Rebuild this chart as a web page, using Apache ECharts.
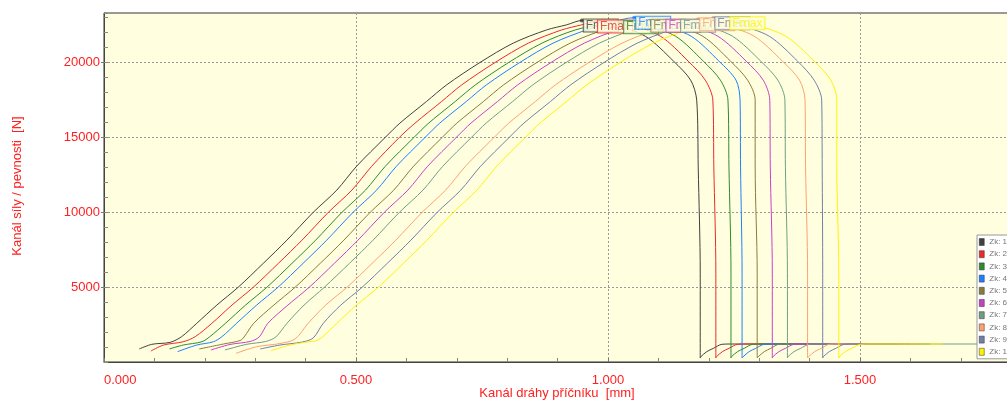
<!DOCTYPE html>
<html><head><meta charset="utf-8">
<script src="https://cdn.jsdelivr.net/npm/echarts@6/dist/echarts.min.js"></script>
<style>html,body{margin:0;padding:0;background:#fff}#c{width:1007px;height:401px}</style>
</head><body><div id="c"></div>
<script>
const names = ['Zk: 1','Zk: 2','Zk: 3','Zk: 4','Zk: 5','Zk: 6','Zk: 7','Zk: 8','Zk: 9','Zk: 10'];
const colors = ['#404040','#F02828','#2E8B2E','#1E80FF','#8B7B3A','#C840C8','#6E9E82','#FFA070','#7080A8','#FFF200'];
const xTitle = 'Kanál dráhy příčníku  [mm]';
const yTitle = 'Kanál síly / pevnosti  [N]';
const peakLabel = 'Fmax';

const zk1 = [[0.070,870],[0.095,1180],[0.131,1310],[0.154,1690],[0.184,2580],[0.224,3800],[0.266,4980],[0.316,6580],[0.363,8130],[0.415,9980],[0.462,11470],[0.501,13050],[0.558,14980],[0.587,15930],[0.640,17380],[0.680,18490],[0.746,19980],[0.812,21270],[0.878,22150],[0.918,22490],[0.948,22780],[1.008,22530],[1.074,21730],[1.130,20070],[1.164,18800],[1.176,17470],[1.179,13000],[1.183,5930],[1.183,270],[1.184,350],[1.196,690],[1.209,910],[1.226,1180],[1.242,1200],[1.520,1200]];
const zk2 = [[0.093,730],[0.118,1130],[0.157,1350],[0.181,1690],[0.214,2580],[0.254,3800],[0.296,4980],[0.346,6580],[0.393,8130],[0.445,9980],[0.492,11470],[0.531,13050],[0.586,14980],[0.617,15930],[0.670,17380],[0.710,18490],[0.776,19980],[0.842,21270],[0.908,22150],[0.948,22490],[0.976,22710],[1.038,22530],[1.104,21730],[1.159,20070],[1.193,18800],[1.208,17470],[1.210,13000],[1.214,5930],[1.214,270],[1.215,350],[1.227,690],[1.240,910],[1.257,1180],[1.273,1200],[1.540,1200]];
const zk3 = [[0.130,870],[0.157,1130],[0.194,1350],[0.210,1690],[0.241,2580],[0.281,3800],[0.323,4980],[0.373,6580],[0.420,8130],[0.472,9980],[0.519,11470],[0.558,13050],[0.615,14980],[0.644,15930],[0.697,17380],[0.737,18490],[0.803,19980],[0.869,21270],[0.935,22150],[0.984,22500],[1.028,22670],[1.068,22530],[1.134,21730],[1.189,20070],[1.223,18800],[1.238,17470],[1.240,13000],[1.244,5930],[1.244,270],[1.245,350],[1.257,690],[1.270,910],[1.287,1180],[1.304,1200],[1.560,1200]];
const zk4 = [[0.146,690],[0.184,1130],[0.217,1350],[0.234,1690],[0.263,2580],[0.303,3800],[0.345,4980],[0.395,6580],[0.442,8130],[0.494,9980],[0.541,11470],[0.580,13050],[0.637,14980],[0.666,15930],[0.719,17380],[0.759,18490],[0.825,19980],[0.891,21270],[0.957,22150],[1.004,22630],[1.052,22970],[1.099,22530],[1.165,21730],[1.220,20070],[1.254,18800],[1.262,17470],[1.263,13000],[1.266,5930],[1.266,270],[1.268,350],[1.280,690],[1.293,910],[1.310,1180],[1.326,1200],[1.579,1200]];
const zk5 = [[0.189,870],[0.237,1200],[0.270,1430],[0.278,1670],[0.297,2580],[0.337,3800],[0.379,4980],[0.429,6580],[0.476,8130],[0.528,9980],[0.575,11470],[0.614,13050],[0.671,14980],[0.700,15930],[0.753,17380],[0.793,18490],[0.859,19980],[0.925,21270],[0.991,22150],[1.040,22600],[1.082,22770],[1.122,22530],[1.188,21730],[1.243,20070],[1.277,18800],[1.292,17470],[1.292,13000],[1.296,5930],[1.296,270],[1.298,350],[1.310,690],[1.323,910],[1.339,1180],[1.356,1200],[1.579,1200]];
const zk6 = [[0.212,800],[0.250,1170],[0.290,1370],[0.308,1670],[0.325,2580],[0.365,3800],[0.407,4980],[0.457,6580],[0.504,8130],[0.556,9980],[0.603,11470],[0.642,13050],[0.699,14980],[0.728,15930],[0.781,17380],[0.821,18490],[0.887,19980],[0.953,21270],[1.019,22150],[1.069,22570],[1.112,22770],[1.153,22530],[1.218,21730],[1.274,20070],[1.308,18800],[1.321,17470],[1.322,13000],[1.326,5930],[1.326,270],[1.327,350],[1.339,690],[1.352,910],[1.369,1180],[1.385,1200],[1.599,1200]];
const zk7 = [[0.240,800],[0.283,1180],[0.321,1370],[0.341,1670],[0.363,2580],[0.397,3800],[0.437,4980],[0.487,6580],[0.534,8130],[0.586,9980],[0.633,11470],[0.672,13050],[0.729,14980],[0.758,15930],[0.811,17380],[0.851,18490],[0.917,19980],[0.983,21270],[1.049,22150],[1.099,22570],[1.141,22770],[1.182,22530],[1.247,21730],[1.303,20070],[1.337,18800],[1.351,17470],[1.352,13000],[1.356,5930],[1.356,270],[1.357,350],[1.369,690],[1.382,910],[1.399,1180],[1.415,1200],[2.000,1200]];
const zk8 = [[0.262,580],[0.303,1020],[0.349,1230],[0.379,1530],[0.405,2580],[0.440,3800],[0.482,4980],[0.532,6580],[0.579,8130],[0.631,9980],[0.678,11470],[0.717,13050],[0.774,14980],[0.803,15930],[0.856,17380],[0.896,18490],[0.962,19980],[1.028,21270],[1.094,22150],[1.143,22630],[1.179,22870],[1.225,22530],[1.290,21730],[1.346,20070],[1.380,18800],[1.391,17470],[1.392,13000],[1.396,5930],[1.396,270],[1.398,350],[1.410,690],[1.423,910],[1.439,1180],[1.456,1200],[1.619,1200]];
const zk9 = [[0.310,870],[0.349,1130],[0.393,1330],[0.415,1600],[0.435,2580],[0.470,3800],[0.512,4980],[0.562,6580],[0.609,8130],[0.661,9980],[0.708,11470],[0.747,13050],[0.804,14980],[0.833,15930],[0.886,17380],[0.926,18490],[0.992,19980],[1.058,21270],[1.124,22150],[1.173,22700],[1.209,22930],[1.255,22530],[1.320,21730],[1.376,20070],[1.409,18800],[1.424,17470],[1.425,13000],[1.426,5930],[1.426,270],[1.427,350],[1.439,690],[1.452,910],[1.469,1180],[1.486,1200],[1.639,1200]];
const zk10 = [[0.331,750],[0.369,1130],[0.402,1330],[0.425,1470],[0.448,2130],[0.462,2580],[0.501,3800],[0.544,4980],[0.594,6580],[0.641,8130],[0.693,9980],[0.740,11470],[0.779,13050],[0.836,14980],[0.865,15930],[0.918,17380],[0.958,18490],[1.024,19980],[1.090,21270],[1.156,22150],[1.206,22700],[1.239,22930],[1.288,22530],[1.353,21730],[1.409,20070],[1.442,18800],[1.454,17470],[1.454,13000],[1.458,5930],[1.458,270],[1.459,350],[1.471,690],[1.484,910],[1.501,1180],[1.517,1200],[1.665,1200]];

const curves = [zk1,zk2,zk3,zk4,zk5,zk6,zk7,zk8,zk9,zk10];

const FONT = 'Liberation Sans, Arial, sans-serif';
const RED = '#FF2020';

const lineSeries = curves.map((d,i)=>({
  type:'line', name:names[i], data:d, symbol:'none', showSymbol:false, smooth:0.3,
  lineStyle:{width:1,color:colors[i]}, itemStyle:{color:colors[i]},
  z:2, animation:false, silent:true
}));
const peakSeries = curves.map((d,i)=>{
  const pk = d.reduce((a,b)=>b[1]>a[1]?b:a);
  return {
    type:'scatter', name:'peak'+(i+1), data:[pk], symbol:'circle', symbolSize:4,
    itemStyle:{color:colors[i]}, z:5, animation:false, silent:true,
    label:{show:true, formatter:peakLabel, position:[4,1], color:colors[i],
      fontSize:12, fontFamily:FONT, lineHeight:12, padding:[0,2],
      borderColor:colors[i], borderWidth:1, backgroundColor:'#FFFFE0'}
  };
});

const chart = echarts.init(document.getElementById('c'), null, {renderer:'canvas'});
chart.setOption({
  animation:false,
  backgroundColor:'#ffffff',
  grid:{left:104, top:13, right:-105, bottom:39, show:true, containLabel:false, outerBoundsMode:'none',
    backgroundColor:'#FFFFE0', borderColor:'#333', borderWidth:1},
  legend:{data:names, orient:'vertical', left:977, top:235, icon:'rect', itemWidth:5, itemHeight:7, itemGap:4.2,
    textStyle:{fontSize:8, color:'#777', fontFamily:FONT, lineHeight:8},
    backgroundColor:'#ffffff', borderColor:'#999', borderWidth:1, padding:[3,30,3,2],
    itemStyle:{borderColor:'#333', borderWidth:0.5}, selectedMode:false},
  xAxis:[{type:'value', min:0, max:2, interval:0.5,
    axisLine:{onZero:false, lineStyle:{color:'#444'}},
    axisTick:{inside:true, length:4, lineStyle:{color:'#777'}},
    minorTick:{show:true, splitNumber:5, length:4, lineStyle:{color:'#888'}},
    splitLine:{show:true, lineStyle:{color:'#999', type:[2,2]}},
    axisLabel:{color:RED, fontSize:13, fontFamily:FONT, margin:12, formatter:v=>v.toFixed(3), alignMinLabel:'left'}}],
  yAxis:[{type:'value', min:0, max:23280, interval:5000, position:'left',
    axisLine:{show:true, onZero:false, lineStyle:{color:'#444'}},
    axisTick:{show:true, length:3, lineStyle:{color:'#777'}},
    splitLine:{show:true, lineStyle:{color:'#999', type:[2,2]}},
    axisLabel:{color:RED, fontSize:13, fontFamily:FONT, margin:4, showMinLabel:false, showMaxLabel:false, formatter:v=>String(v)}},
   {type:'value', min:0, max:23280, interval:1000, position:'left',
    axisLine:{show:false, onZero:false}, axisTick:{show:true, inside:true, length:4, lineStyle:{color:'#888'}},
    axisLabel:{show:false}, splitLine:{show:false}}],
  graphic:[
    {type:'text', x:557, y:393, silent:true, style:{text:xTitle, fill:RED, font:'13px '+FONT, align:'center', verticalAlign:'middle', textAlign:'center', textVerticalAlign:'middle'}},
    {type:'text', x:17, y:186, rotation:Math.PI/2, silent:true, style:{text:yTitle, fill:RED, font:'13px '+FONT, align:'center', verticalAlign:'middle', textAlign:'center', textVerticalAlign:'middle'}}
  ],
  series:[...lineSeries, ...peakSeries]
});
</script></body></html>
